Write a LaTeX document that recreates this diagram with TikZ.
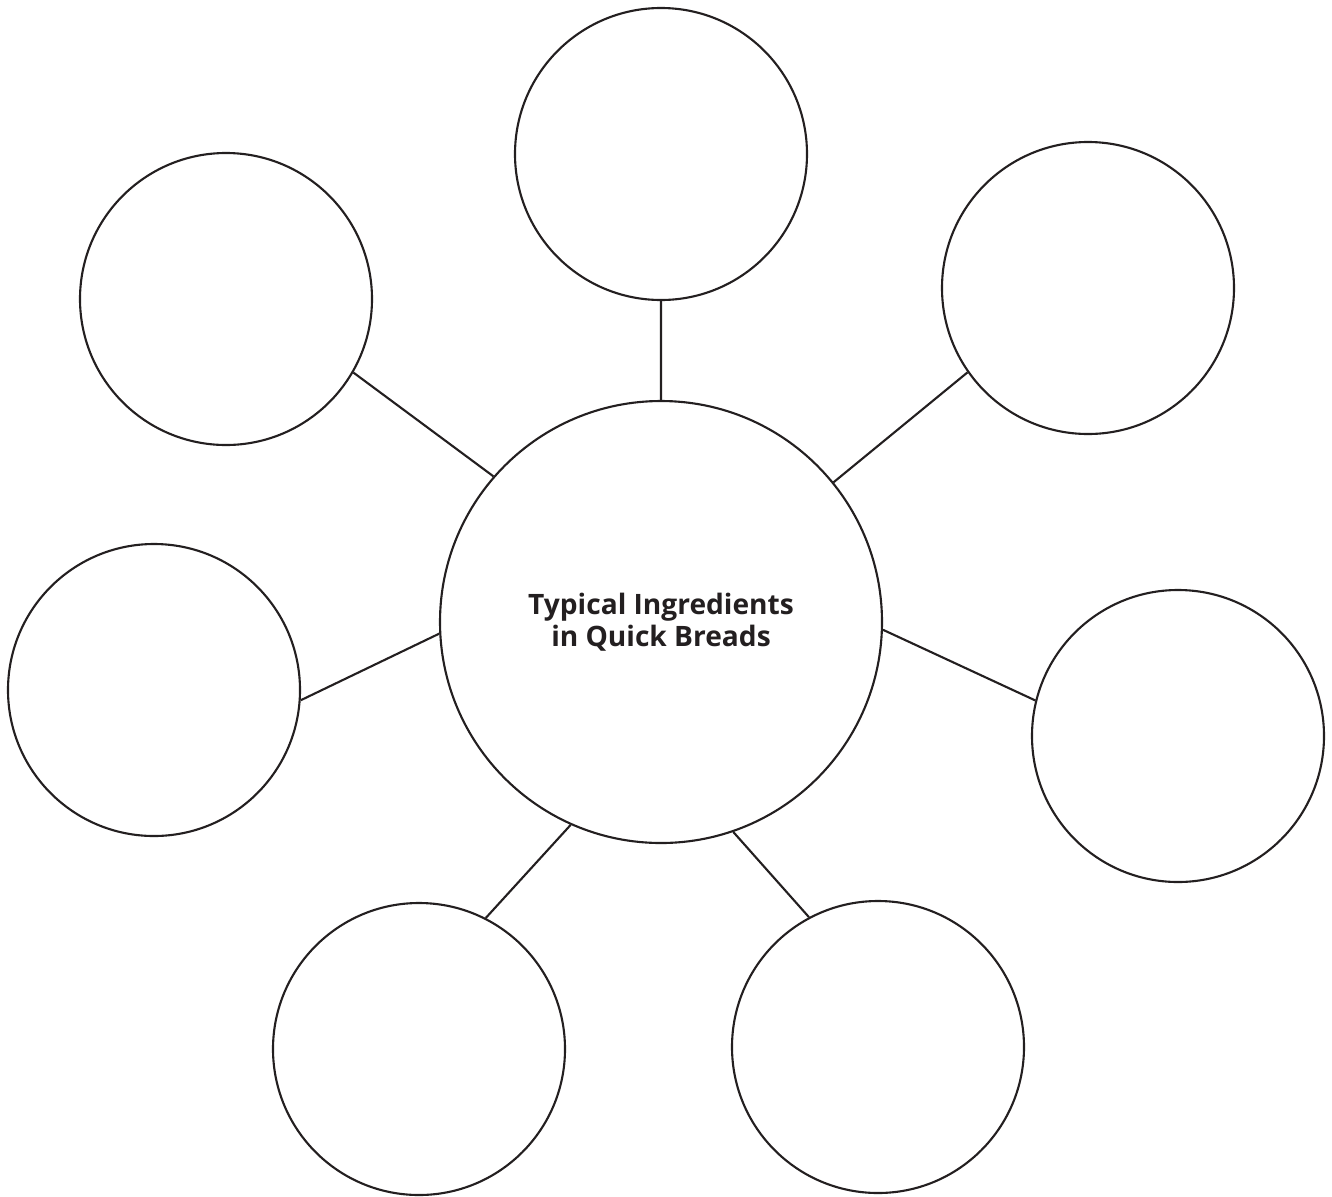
\documentclass[tikz,border=0pt]{standalone}
\usepackage{fontspec}
\setmainfont{Open Sans}
\definecolor{ink}{HTML}{231F20}
\begin{document}
\begin{tikzpicture}[-,line width=1.2pt,draw=ink,
  hub/.style={circle,draw=ink,line width=1.2pt,minimum size=8.84cm,inner sep=0pt,
    align=center,font=\fontsize{16}{18}\selectfont\bfseries,text=ink},
  leaf/.style={circle,draw=ink,line width=1.2pt,minimum size=5.84cm,inner sep=0pt}]

\useasboundingbox (0,0) rectangle (26.64,-23.92);

\node [hub] (hub) at (13.22,-12.44) {Typical Ingredients\\in Quick Breads};

\node [leaf] (top) at (13.22,-3.08) {};
\node [leaf] (ul) at (4.52,-5.98) {};
\node [leaf] (ur) at (21.76,-5.76) {};
\node [leaf] (l) at (3.08,-13.80) {};
\node [leaf] (r) at (23.56,-14.72) {};
\node [leaf] (bl) at (8.38,-20.98) {};
\node [leaf] (br) at (17.56,-20.94) {};

\path [draw,color=ink]
    (hub.90) -- (top.270)
    (hub.139) -- (ul.-30)
    (hub.39.5) -- (ur.215)
    (hub.183.4) -- (l.-4)
    (hub.-2.6) -- (r.166)
    (hub.246) -- (bl.63.6)
    (hub.289.2) -- (br.118.3)
;

\end{tikzpicture}
\end{document}
